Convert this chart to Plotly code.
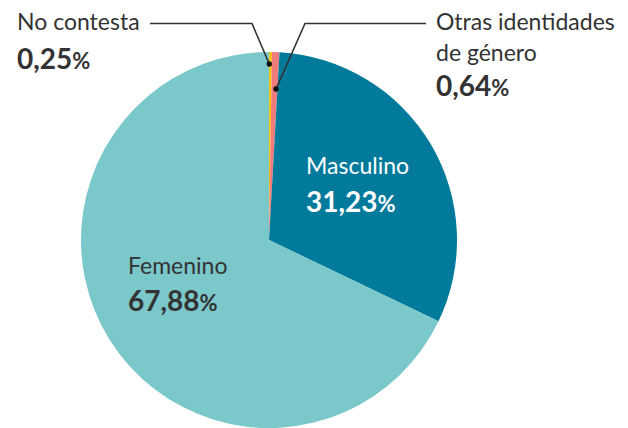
import plotly.graph_objects as go

labels = ["No contesta", "Otras identidades de género", "Masculino", "Femenino"]
values = [0.25, 0.64, 31.23, 67.88]
colors = ["#F6C30F", "#EF7B7B", "#017A9B", "#7BC8CB"]
value_text = ["0,25", "0,64", "31,23", "67,88"]

# page body has an 8px margin; the figure fills the remaining window
OFF = 8
W, H = 628 - OFF, 428 - OFF
FONT = "Lato"
DARK = "#333333"

fig = go.Figure()
fig.add_trace(go.Pie(
    labels=labels, values=values, sort=False, direction="clockwise", rotation=0,
    marker=dict(colors=colors, line=dict(width=0)),
    textinfo="none", hoverinfo="label+percent", showlegend=False,
    domain=dict(x=[(81 - OFF) / W, (457 - OFF) / W], y=[0, (H - (52 - OFF)) / H]),
))

def pct(v, size_num=28, size_pct=22):
    return f"<b><span style='font-size:{size_num}px'>{v}</span><span style='font-size:{size_pct}px'>%</span></b>"

ann = []
def add(x, y, text, color=DARK, size=23):
    ann.append(dict(x=x, y=y, xref="x", yref="y", text=text, showarrow=False,
                    xanchor="left", yanchor="middle", align="left",
                    font=dict(family=FONT, size=size, color=color)))

add(15, 21, labels[0])
add(15, 58, pct(value_text[0]))
add(434, 21, "Otras identidades")
add(434, 52, "de género")
add(434, 85, pct(value_text[1]))
add(304, 165, labels[2], color="white")
add(304, 201, pct(value_text[2]), color="white")
add(126, 265, labels[3])
add(126, 300, pct(value_text[3]))

shapes = [
    dict(type="path", path="M 150 23.5 L 252 23.5 L 269.3 64", xref="x", yref="y",
         line=dict(color=DARK, width=1.6)),
    dict(type="path", path="M 426 23.5 L 305 23.5 L 276 89", xref="x", yref="y",
         line=dict(color=DARK, width=1.6)),
    dict(type="circle", x0=266.6, x1=272, y0=61.3, y1=66.7, xref="x", yref="y",
         fillcolor="#111", line=dict(width=0)),
    dict(type="circle", x0=273.3, x1=278.7, y0=86.3, y1=91.7, xref="x", yref="y",
         fillcolor="#111", line=dict(width=0)),
]

fig.update_layout(
    width=W, height=H, margin=dict(l=0, r=0, t=0, b=0),
    paper_bgcolor="white", plot_bgcolor="rgba(0,0,0,0)",
    xaxis=dict(range=[OFF, OFF + W], visible=False, fixedrange=True),
    yaxis=dict(range=[OFF + H, OFF], visible=False, fixedrange=True),
    annotations=ann, shapes=shapes,
)

fig.write_html("out.html")
